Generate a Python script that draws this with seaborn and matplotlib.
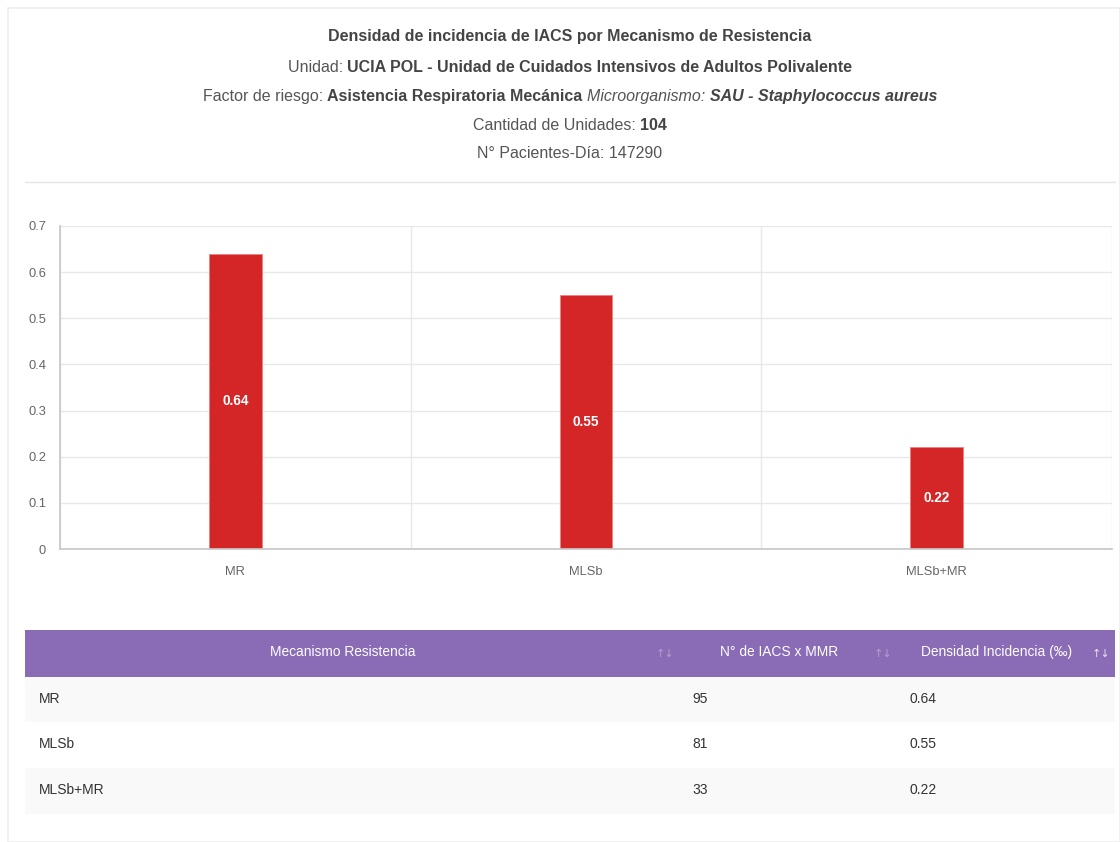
import matplotlib
matplotlib.use("Agg")
import matplotlib.pyplot as plt
import seaborn as sns
import pandas as pd
from matplotlib.patches import Rectangle

# data
mecanismos = ["MR", "MLSb", "MLSb+MR"]
densidad = [0.64, 0.55, 0.22]
n_iacs = [95, 81, 33]
densidad_txt = ["0.64", "0.55", "0.22"]

header_cols = ["Mecanismo Resistencia", "N° de IACS x MMR", "Densidad Incidencia (‰)"]

df = pd.DataFrame({"mecanismo": mecanismos, "densidad": densidad})

sns.set_theme(style="white")
plt.rcParams["font.family"] = ["Liberation Sans", "DejaVu Sans"]

W, H = 1120, 842
fig = plt.figure(figsize=(W / 100, H / 100), dpi=100)
fig.patch.set_facecolor("white")


def px(x, y):
    # pixel coords (top-left origin) -> figure fraction
    return x / W, 1 - y / H


# faint card border
fig.patches.append(Rectangle((8 / W, 0.0), (W - 8) / W, 1 - 8 / H, transform=fig.transFigure,
                             fill=False, edgecolor="#eeeeee", lw=1.2))

# ---- header text lines (mixed weights) ----
renderer = fig.canvas.get_renderer()


def mixed_line(y, parts, size=11.5):
    texts = []
    for s, weight, style in parts:
        t = fig.text(0, 0, s, fontsize=size, fontweight=weight, fontstyle=style,
                     color="#444444" if weight == "bold" else "#555555", va="center", ha="left")
        texts.append(t)
    widths = [t.get_window_extent(renderer).width for t in texts]
    total = sum(widths)
    x = 570 - total / 2
    for t, w in zip(texts, widths):
        t.set_position(px(x, y))
        x += w


mixed_line(37, [("Densidad de incidencia de IACS por Mecanismo de Resistencia", "bold", "normal")])
mixed_line(67, [("Unidad: ", "normal", "normal"),
                ("UCIA POL - Unidad de Cuidados Intensivos de Adultos Polivalente", "bold", "normal")])
mixed_line(96, [("Factor de riesgo: ", "normal", "normal"),
                ("Asistencia Respiratoria Mecánica ", "bold", "normal"),
                ("Microorganismo: ", "normal", "italic"),
                ("SAU - Staphylococcus aureus", "bold", "italic")])
mixed_line(125, [("Cantidad de Unidades: ", "normal", "normal"), ("104", "bold", "normal")])
mixed_line(153, [("N° Pacientes-Día: 147290", "normal", "normal")])

fig.add_artist(plt.Line2D([25 / W, 1115 / W], [1 - 182 / H] * 2, color="#e5e5e5", lw=1))

# ---- bar chart ----
left, right, top, bottom = 60, 1112, 226, 549
ax = fig.add_axes([left / W, 1 - bottom / H, (right - left) / W, (bottom - top) / H])
sns.barplot(data=df, x="mecanismo", y="densidad", color="#d42627", width=0.15,
            edgecolor="#f08080", linewidth=0.6, saturation=1, ax=ax)
ax.set_xlim(-0.5, 2.5)
ax.set_ylim(0, 0.7)
ax.set_yticks([0, 0.1, 0.2, 0.3, 0.4, 0.5, 0.6, 0.7])
ax.set_yticklabels(["0", "0.1", "0.2", "0.3", "0.4", "0.5", "0.6", "0.7"])
ax.set_xlabel("")
ax.set_ylabel("")
ax.set_xticks([-0.5, 0.5, 1.5, 2.5], minor=True)
ax.tick_params(axis="x", which="major", length=0, labelsize=9.3, colors="#666666", pad=12)
ax.tick_params(axis="x", which="minor", length=10, color="#e5e5e5", width=1)
ax.tick_params(axis="y", length=8, color="#cccccc", labelsize=9.3, labelcolor="#666666", pad=2)
ax.grid(True, axis="y", color="#e8e8e8", lw=1)
ax.grid(True, axis="x", which="minor", color="#e8e8e8", lw=1)
for s in ["top", "right"]:
    ax.spines[s].set_visible(False)
ax.spines["left"].set_color("#c8c8c8")
ax.spines["bottom"].set_color("#c8c8c8")
ax.set_axisbelow(True)
ax.bar_label(ax.containers[0], labels=densidad_txt, label_type="center",
             color="white", fontweight="bold", fontsize=9.8)

# ---- table ----
tx0, tx1 = 25, 1115
fig.patches.append(Rectangle(px(tx0, 677), (tx1 - tx0) / W, 47 / H, transform=fig.transFigure,
                             facecolor="#8a6bb5", edgecolor="none"))
row_tops = [677, 722, 768]
row_h = 46
for i, y0 in enumerate(row_tops):
    fc = "#f9f9f9" if i % 2 == 0 else "white"
    fig.patches.append(Rectangle(px(tx0, y0 + row_h), (tx1 - tx0) / W, row_h / H,
                                 transform=fig.transFigure, facecolor=fc, edgecolor="none"))

hy = 652
fig.text(*px(343, hy), header_cols[0], color="white", fontsize=9.9, ha="center", va="center")
fig.text(*px(779, hy), header_cols[1], color="white", fontsize=9.9, ha="center", va="center")
fig.text(*px(997, hy), header_cols[2], color="white", fontsize=9.9, ha="center", va="center")
for xi, a in [(665, 0.35), (883, 0.35), (1101, 0.8)]:
    fig.text(*px(xi, hy + 2), "↑↓", color="white", alpha=a, fontsize=8,
             ha="center", va="center", family=["DejaVu Sans"])

for i, y0 in enumerate(row_tops):
    yc = y0 + 22
    fig.text(*px(39, yc), mecanismos[i], color="#333333", fontsize=10, ha="left", va="center")
    fig.text(*px(692, yc), str(n_iacs[i]), color="#333333", fontsize=10, ha="left", va="center")
    fig.text(*px(910, yc), densidad_txt[i], color="#333333", fontsize=10, ha="left", va="center")

fig.savefig("out.png", dpi=100, facecolor="white")
